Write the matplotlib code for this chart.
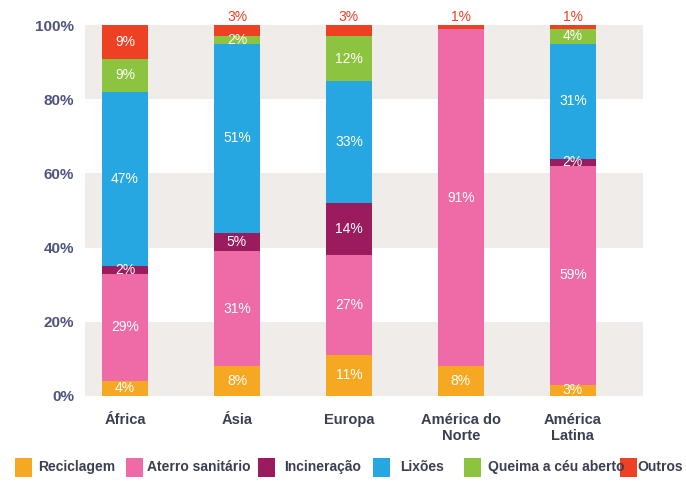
import matplotlib.pyplot as plt
from matplotlib.patches import Rectangle
import numpy as np

# -----------------------------
# Data
# -----------------------------
regions = ["África", "Ásia", "Europa", "América do\nNorte", "América\nLatina"]
series_names = ["Reciclagem", "Aterro sanitário", "Incineração", "Lixões",
                "Queima a céu aberto", "Outros"]
reciclagem = [4, 8, 11, 8, 3]
aterro = [29, 31, 27, 91, 59]
incineracao = [2, 5, 14, 0, 2]
lixoes = [47, 51, 33, 0, 31]
queima = [9, 2, 12, 0, 4]
outros = [9, 3, 3, 1, 1]
y_ticks = [0, 20, 40, 60, 80, 100]

# -----------------------------
# Theme
# -----------------------------
COLORS = ["#F7A823", "#EE6BA8", "#9B1B5F", "#27A7E1", "#8CC43F", "#EE4023"]
BAND = "#EFECEA"
TICK = "#4F5380"
LABEL = "#3A3F52"
FONT = ["Liberation Sans", "DejaVu Sans"]

plt.rcParams["font.family"] = FONT

fig = plt.figure(figsize=(6.86, 4.93), dpi=100)
ax = fig.add_axes([0.124, 0.197, 0.813, 0.752])

# alternating background bands
for lo, hi in [(0, 20), (40, 60), (80, 100)]:
    ax.axhspan(lo, hi, color=BAND, zorder=0, lw=0)

x = np.arange(len(regions))
width = 0.41
all_series = [reciclagem, aterro, incineracao, lixoes, queima, outros]
bottom = np.zeros(len(regions))

for i, vals in enumerate(all_series):
    vals = np.array(vals, dtype=float)
    ax.bar(x, vals, width, bottom=bottom, color=COLORS[i], zorder=2, lw=0)
    for j, v in enumerate(vals):
        if v <= 0:
            continue
        if i == len(all_series) - 1 and v <= 3:
            ax.text(x[j], bottom[j] + v + 0.3, f"{int(v)}%", ha="center",
                    va="bottom", color=COLORS[i], fontsize=10, zorder=3)
        else:
            ax.text(x[j], bottom[j] + v / 2, f"{int(v)}%", ha="center",
                    va="center", color="white", fontsize=10, zorder=3)
    bottom += vals

ax.set_xlim(-0.357, 4.625)
ax.set_ylim(0, 100)
ax.set_yticks(y_ticks)
ax.set_yticklabels([f"{t}%" for t in y_ticks], color=TICK, fontsize=11,
                   fontweight="bold")
ax.set_xticks(x)
ax.set_xticklabels(regions, color=LABEL, fontsize=10.5, fontweight="bold",
                   linespacing=1.2)
ax.tick_params(axis="both", length=0)
ax.tick_params(axis="x", pad=12)
ax.tick_params(axis="y", pad=8)
for s in ax.spines.values():
    s.set_visible(False)

# legend along the bottom
legend_x = [15, 126, 258, 373, 464, 620]
text_x = [38, 147, 284, 400, 488, 637]
W, H = 686, 493
for lx, tx, name, c in zip(legend_x, text_x, series_names, COLORS):
    fig.add_artist(Rectangle((lx / W, (H - 477) / H), 17 / W, 19 / H,
                             transform=fig.transFigure, color=c, lw=0))
    fig.text(tx / W, (H - 467) / H, name, ha="left", va="center",
             color=LABEL, fontsize=10, fontweight="bold")

fig.savefig("out.png", dpi=100)
